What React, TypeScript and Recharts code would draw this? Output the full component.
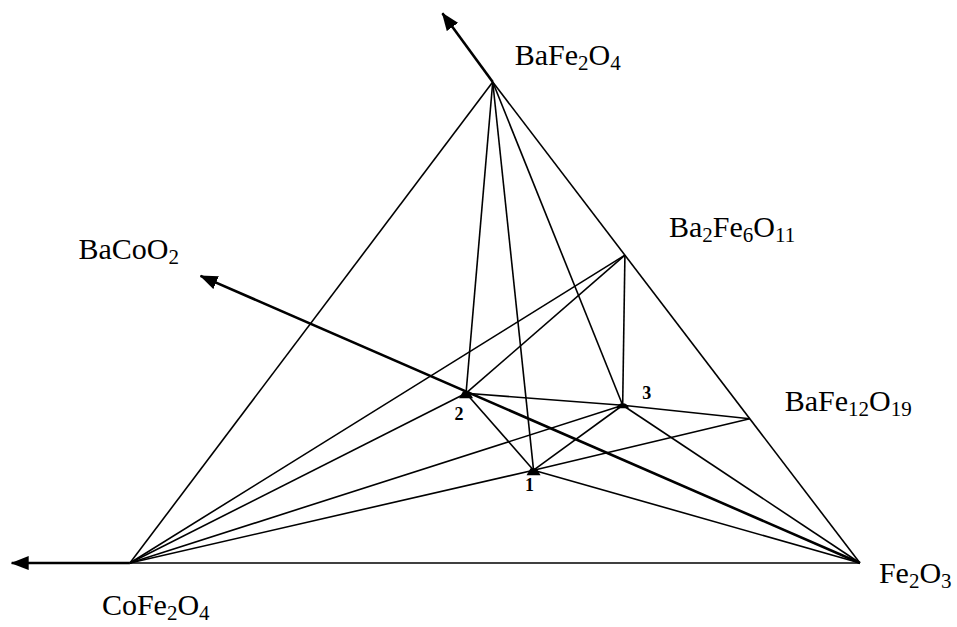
import { ScatterChart, Scatter, XAxis, YAxis, ReferenceLine } from "recharts";

// phases placed by composition: fraction of Fe2O3 and of BaFe2O4 (rest is CoFe2O4)
const phases = ["CoFe2O4", "Fe2O3", "BaFe2O4", "Ba2Fe6O11", "BaFe12O19", "1", "2", "3"];
const feFraction = [0, 1, 0, 0.36, 0.7, 0.457, 0.285, 0.512];
const baFraction = [0, 0, 1, 0.64, 0.3, 0.193, 0.353, 0.328];

// arrows leaving the triangle toward neighbouring compounds
const arrowFrom = ["CoFe2O4", "BaFe2O4", "Fe2O3"];
const arrowTipFe = [-0.162, -0.14, -0.2];
const arrowTipBa = [0, 1.143, 0.597];
const arrowLabel = ["", "", "BaCoO2"];

// tie lines between phases
const tieLines: [string, string][] = [
  ["CoFe2O4", "Fe2O3"],
  ["CoFe2O4", "BaFe2O4"],
  ["BaFe2O4", "Fe2O3"],
  ["BaFe2O4", "2"],
  ["BaFe2O4", "1"],
  ["BaFe2O4", "3"],
  ["Ba2Fe6O11", "CoFe2O4"],
  ["Ba2Fe6O11", "2"],
  ["Ba2Fe6O11", "3"],
  ["CoFe2O4", "2"],
  ["CoFe2O4", "3"],
  ["CoFe2O4", "1"],
  ["1", "BaFe12O19"],
  ["2", "3"],
  ["2", "1"],
  ["3", "1"],
  ["3", "BaFe12O19"],
  ["3", "Fe2O3"],
  ["1", "Fe2O3"],
];

const compoundLabels = ["BaFe2O4", "Ba2Fe6O11", "BaFe12O19", "Fe2O3", "CoFe2O4"];
const pointLabels = ["1", "2", "3"];

// layout
const W = 957;
const H = 627;
const APEX_X = 49.7;
const X_DOMAIN: [number, number] = [-17.8, 113.3];
const Y_DOMAIN: [number, number] = [-13.3, 117.05];
const FONT = "'Liberation Serif', 'Times New Roman', serif";
const LABEL_OFFSET: Record<string, [number, number]> = {
  BaFe2O4: [22, -17],
  Ba2Fe6O11: [44, -18],
  BaFe12O19: [35, -8],
  Fe2O3: [19, 20],
  CoFe2O4: [-28, 52],
  BaCoO2: [-122, -17],
  "1": [-4, 21],
  "2": [-7, 27],
  "3": [24, -6],
};

const toXY = (fe: number, ba: number) => ({ x: fe * 100 + ba * APEX_X, y: ba * 100 });

const pos: Record<string, { x: number; y: number }> = {};
phases.forEach((p, i) => {
  pos[p] = toXY(feFraction[i], baFraction[i]);
});

const arrows = arrowFrom.map((from, i) => ({
  from: pos[from],
  to: toXY(arrowTipFe[i], arrowTipBa[i]),
  label: arrowLabel[i],
}));

const labelData = [
  ...compoundLabels.map((name) => ({ ...pos[name], name })),
  ...arrows.filter((a) => a.label).map((a) => ({ ...a.to, name: a.label })),
];
const pointData = pointLabels.map((name) => ({ ...pos[name], name }));

function Formula({ x, y, text }: { x: number; y: number; text: string }) {
  const parts = text.split(/(\d+)/).filter((s) => s.length);
  let sub = false;
  return (
    <text x={x} y={y} fontFamily={FONT} fontSize={30} fill="#000">
      {parts.map((s, i) => {
        const isNum = /^\d+$/.test(s);
        const dy = isNum && !sub ? 5 : !isNum && sub ? -5 : 0;
        sub = isNum;
        return (
          <tspan key={i} dy={dy} fontSize={isNum ? 21 : 30}>
            {s}
          </tspan>
        );
      })}
    </text>
  );
}

// eslint-disable-next-line @typescript-eslint/no-explicit-any
const labelShape = (props: any) => {
  const { cx, cy, payload } = props;
  const [dx, dy] = LABEL_OFFSET[payload.name];
  return <Formula x={cx + dx} y={cy + dy} text={payload.name} />;
};

// eslint-disable-next-line @typescript-eslint/no-explicit-any
const pointShape = (props: any) => {
  const { cx, cy, payload } = props;
  const [dx, dy] = LABEL_OFFSET[payload.name];
  const mark =
    payload.name === "3" ? (
      <path d={`M${cx - 6},${cy + 3} A6,5 0 0 1 ${cx + 6},${cy + 3} Z`} fill="#000" />
    ) : (
      <path
        d={`M${cx - 7},${cy + 5} L${cx - 3},${cy - 2} L${cx + 3},${cy - 2} L${cx + 7},${cy + 5} Z`}
        fill="#000"
      />
    );
  return (
    <g>
      {mark}
      <text
        x={cx + dx}
        y={cy + dy}
        textAnchor="middle"
        fontFamily={FONT}
        fontWeight="bold"
        fontSize={18}
        fill="#000"
      >
        {payload.name}
      </text>
    </g>
  );
};

export default function App() {
  return (
    <div style={{ position: "absolute", left: 0, top: 0, width: W, height: H, background: "#fff" }}>
      <svg width={0} height={0} style={{ position: "absolute" }}>
        <defs>
          <marker
            id="arrowHead"
            markerWidth={18}
            markerHeight={14}
            refX={17}
            refY={7}
            orient="auto"
            markerUnits="userSpaceOnUse"
          >
            <path d="M0,0 L18,7 L0,14 Z" fill="#000" />
          </marker>
        </defs>
      </svg>
      <ScatterChart width={W} height={H} margin={{ top: 0, right: 0, bottom: 0, left: 0 }}>
        <XAxis type="number" dataKey="x" domain={X_DOMAIN} allowDataOverflow hide />
        <YAxis type="number" dataKey="y" domain={Y_DOMAIN} allowDataOverflow hide />
        {tieLines.map(([a, b], i) => (
          <ReferenceLine
            key={`t${i}`}
            segment={[pos[a], pos[b]]}
            stroke="#000"
            strokeWidth={1.6}
            ifOverflow="visible"
          />
        ))}
        {arrows.map((a, i) => (
          <ReferenceLine
            key={`a${i}`}
            segment={[a.from, a.to]}
            stroke="#000"
            strokeWidth={2.6}
            ifOverflow="visible"
            markerEnd="url(#arrowHead)"
          />
        ))}
        <Scatter data={pointData} shape={pointShape} isAnimationActive={false} />
        <Scatter data={labelData} shape={labelShape} isAnimationActive={false} />
      </ScatterChart>
    </div>
  );
}
